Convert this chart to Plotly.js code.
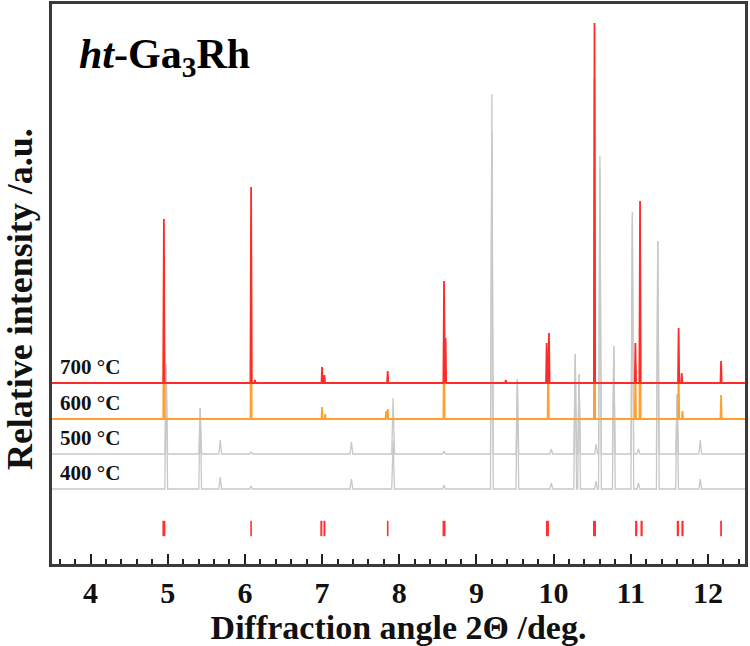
<!DOCTYPE html>
<html>
<head>
<meta charset="utf-8">
<script src="https://cdn.plot.ly/plotly-3.0.1.min.js"></script>
<style>html,body{margin:0;padding:0;background:#fff;}#chart{width:750px;height:646px;}</style>
</head>
<body>
<div id="chart"></div>
<script>
// Series labels
const seriesNames = ["400 °C", "500 °C", "600 °C", "700 °C"];

// 700 °C (red) peak positions (2θ, deg) and heights (a.u.)
const peaks700 = [4.95, 6.08, 6.13, 7.00, 7.03, 7.85, 8.58, 8.60, 9.38, 9.91, 9.94, 10.53, 11.06, 11.12, 11.62, 11.66, 12.17];
const heights700 = [164, 196, 3, 16, 8, 12, 102, 45, 3, 40, 50, 360, 40, 182, 55, 10, 22];

// 600 °C (orange)
const peaks600 = [4.95, 6.08, 7.00, 7.04, 7.83, 7.85, 8.58, 9.93, 10.53, 11.06, 11.12, 11.62, 11.67, 12.17];
const heights600 = [160, 190, 12, 5, 8, 10, 100, 60, 340, 55, 175, 50, 8, 24];

// 500 °C and 400 °C (gray) share peak positions
const peaksGray = [4.98, 5.42, 5.68, 6.08, 7.38, 7.92, 8.58, 9.20, 9.53, 9.97, 10.28, 10.33, 10.55, 10.60, 10.78, 11.02, 11.10, 11.35, 11.60, 11.90];
const heights500 = [90, 46, 14, 2, 12, 56, 3, 360, 75, 5, 100, 80, 10, 298, 108, 242, 5, 213, 60, 14];
const heights400 = [120, 81, 12, 3, 10, 48, 4, 358, 110, 6, 135, 115, 8, 320, 143, 272, 6, 248, 95, 10];

// Reference (calculated) reflection positions
const refPositions = [4.95, 6.08, 6.99, 7.03, 7.85, 8.58, 9.92, 10.53, 11.07, 11.14, 11.61, 11.67, 12.17];

// Axis ticks
const tickVals = [4, 5, 6, 7, 8, 9, 10, 11, 12];

// ---- layout / style constants (not data) ----
const offsets = {"400 °C": 75, "500 °C": 110, "600 °C": 145, "700 °C": 181};
const refStrokeWidths = [3, 1.6, 2, 2, 1.6, 3, 3, 3, 2.2, 2.2, 2.2, 2.2, 1.8];
const refY = 35.5;
const xMin = 3.5, xMax = 12.48;
const serif = "Liberation Serif, Times New Roman, serif";

function buildPattern(pos, hts, offset, w) {
  const idx = pos.map((p, i) => i).sort((a, b) => pos[a] - pos[b]);
  const xs = [xMin], ys = [offset];
  idx.forEach(i => {
    xs.push(pos[i] - w, pos[i], pos[i] + w);
    ys.push(offset, offset + hts[i], offset);
  });
  xs.push(xMax + 0.1); ys.push(offset);
  return {xs, ys};
}

const p400 = buildPattern(peaksGray, heights400, offsets["400 °C"], 0.018);
const p500 = buildPattern(peaksGray, heights500, offsets["500 °C"], 0.018);
const p600 = buildPattern(peaks600, heights600, offsets["600 °C"], 0.008);
const p700 = buildPattern(peaks700, heights700, offsets["700 °C"], 0.008);

const traces = [
  {x: p400.xs, y: p400.ys, mode: "lines", line: {color: "#c8c8c8", width: 1.3}, name: seriesNames[0]},
  {x: p500.xs, y: p500.ys, mode: "lines", line: {color: "#c8c8c8", width: 1.3}, name: seriesNames[1]},
  {x: p600.xs, y: p600.ys, mode: "lines", line: {color: "#ffa030", width: 1.8}, name: seriesNames[2]},
  {x: p700.xs, y: p700.ys, mode: "lines", line: {color: "#ff2a2a", width: 1.8}, name: seriesNames[3]},
  {x: refPositions, y: refPositions.map(() => refY), mode: "markers",
   marker: {symbol: "line-ns-open", size: 11, color: "#ff3030", line: {color: "#ff3030", width: refStrokeWidths}}, name: "ref"}
];

const labelFont = {family: serif, size: 21, color: "#111", weight: 700};
const annotations = seriesNames.map(n => ({
  x: 0.008, xref: "paper", xanchor: "left",
  y: offsets[n] + 16, yref: "y", yanchor: "middle",
  text: n, showarrow: false, font: labelFont
}));
annotations.push({
  x: 0.036, xref: "paper", xanchor: "left",
  y: 0.905, yref: "paper", yanchor: "middle",
  text: "<i>ht</i>-Ga<sub>3</sub>Rh", showarrow: false,
  font: {family: serif, size: 42, color: "#000", weight: 700}
});
annotations.push({
  x: (20 - 52) / 693, xref: "paper", xanchor: "center",
  y: 0.473, yref: "paper", yanchor: "middle",
  text: "Relative intensity /a.u.", textangle: -90, showarrow: false,
  font: {family: serif, size: 36, color: "#111", weight: 700}
});

const layout = {
  width: 750, height: 646,
  margin: {l: 52, r: 5, t: 4, b: 82},
  paper_bgcolor: "#fff", plot_bgcolor: "#fff",
  showlegend: false,
  xaxis: {
    range: [xMin, xMax], showgrid: false, zeroline: false,
    showline: true, linecolor: "#3a3a3a", linewidth: 3, mirror: true,
    ticks: "inside", ticklen: 10, tickwidth: 2, tickcolor: "#222",
    tickvals: tickVals, ticktext: tickVals.map(String),
    ticklabelstandoff: 0,
    tickfont: {family: serif, size: 30, color: "#111", weight: 700},
    minor: {ticks: "inside", dtick: 0.2, ticklen: 5, tickwidth: 2, tickcolor: "#222", showgrid: false},
    title: {text: "Diffraction angle 2Θ /deg.", standoff: 4,
            font: {family: serif, size: 34, color: "#111", weight: 700}}
  },
  yaxis: {
    range: [0, 560], showgrid: false, zeroline: false, showticklabels: false, ticks: "",
    showline: true, linecolor: "#3a3a3a", linewidth: 3, mirror: true
  },
  annotations: annotations
};

Plotly.newPlot("chart", traces, layout, {displayModeBar: false, staticPlot: true});
</script>
</body>
</html>
